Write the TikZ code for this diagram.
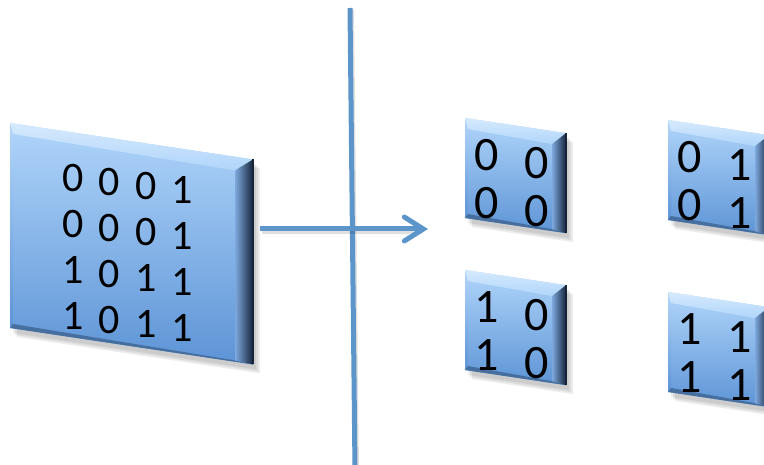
\documentclass[tikz,border=0pt]{standalone}
\usepackage{fontspec}
\setmainfont{Carlito}
\usetikzlibrary{calc,arrows.meta}

\definecolor{panelTop}{HTML}{B0D5FA}
\definecolor{panelBottom}{HTML}{5D94D6}
\definecolor{bevelLight}{HTML}{D6EAFD}
\definecolor{bevelDark}{HTML}{16243A}
\definecolor{lineBlue}{HTML}{5B95C9}

\tikzset{
  bit/.style={font=\fontsize{42}{42}\selectfont, inner sep=0pt},
  smallbit/.style={font=\fontsize{48}{48}\selectfont, inner sep=0pt},
  rule/.style={draw=lineBlue, line width=5pt},
  flow/.style={draw=lineBlue, line width=5pt, -{Straight Barb[length=19pt,width=24pt,line cap=round]}},
  lineshadow/.style={draw=black, opacity=0.12, line width=5pt}
}

\newcommand{\bitpanel}[5]{%
  \coordinate (#1-nw) at (#2);
  \coordinate (#1-ne) at ($(#1-nw)+(#3,0.15*#3)$);
  \coordinate (#1-se) at ($(#1-ne)+(0,#4)$);
  \coordinate (#1-sw) at ($(#1-nw)+(0,#4)$);
  \coordinate (#1-inw) at ($(#1-nw)+(3,11)$);
  \coordinate (#1-ine) at ($(#1-ne)+(-#5,11)$);
  \coordinate (#1-ise) at ($(#1-se)+(-#5,-4)$);
  \coordinate (#1-isw) at ($(#1-sw)+(3,-4)$);
  \foreach \s in {3,5,7}
    \fill[black,opacity=0.07] ([shift={(\s,\s+2)}]#1-nw) -- ([shift={(\s,\s+2)}]#1-ne)
      -- ([shift={(\s,\s+2)}]#1-se) -- ([shift={(\s,\s+2)}]#1-sw) -- cycle;
  \shade[top color=panelTop, bottom color=panelBottom] (#1-nw) -- (#1-ne) -- (#1-se) -- (#1-sw) -- cycle;
  \shade[top color=panelTop!95!white, bottom color=panelBottom] (#1-nw) -- (#1-inw) -- (#1-isw) -- (#1-sw) -- cycle;
  \fill[panelBottom!75!black] (#1-isw) -- (#1-ise) -- (#1-se) -- (#1-sw) -- cycle;
  \shade[top color=bevelLight, bottom color=panelTop] (#1-nw) -- (#1-ne) -- (#1-ine) -- (#1-inw) -- cycle;
  \shade[left color=panelBottom!80!white, right color=bevelDark] (#1-ine) -- (#1-ne) -- (#1-se) -- (#1-ise) -- cycle;
  \draw[bevelDark, line width=1.5pt] (#1-ne) -- (#1-se);
}

\newcommand{\smallpanel}[3]{%
  \bitpanel{#1}{#2}{101}{100}{14}
  \foreach \d [count=\i from 0] in {#3} {
    \pgfmathsetmacro\col{int(mod(\i,2))}
    \pgfmathsetmacro\row{int(\i/2)}
    \node[smallbit] (#1-\i) at ($(#1-nw)+(22+50*\col,37+48*\row+8*\col)$) {\d};
  }
}

\begin{document}
\begin{tikzpicture}[x=1pt,y=-1pt]
  \useasboundingbox (0,0) rectangle (764,465);
  \clip (0,0) rectangle (764,465);

  \coordinate (cut-top) at (350,8);
  \coordinate (cut-bottom) at (355,470);
  \draw[lineshadow] ([shift={(1.5,2)}]cut-top) -- ([shift={(1.5,2)}]cut-bottom);
  \draw[rule] (cut-top) -- (cut-bottom);

  \bitpanel{big}{10,123}{243}{205}{18}
  \foreach \d [count=\i from 0] in {0,0,0,1,0,0,0,1,1,0,1,1,1,0,1,1} {
    \pgfmathsetmacro\col{int(mod(\i,4))}
    \pgfmathsetmacro\row{int(\i/4)}
    \node[bit] (big-\i) at ($(big-nw)+(63+36.5*\col,55+46*\row+4*\col)$) {\d};
  }

  \coordinate (split) at (428,229);
  \coordinate (big-out) at ($(big-ne |- split)+(7,0)$);
  \draw[lineshadow] ([shift={(1.5,2.5)}]big-out) -- ([shift={(-6,2.5)}]split);
  \draw[flow] (big-out) -- (split);

  \smallpanel{q00}{465,118}{0,0,0,0}
  \smallpanel{q01}{668,120}{0,1,0,1}
  \smallpanel{q10}{465,270}{1,0,1,0}
  \smallpanel{q11}{668,292}{1,1,1,1}
\end{tikzpicture}
\end{document}
